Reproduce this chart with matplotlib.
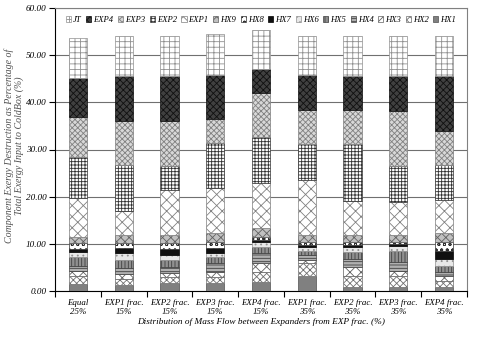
import matplotlib
matplotlib.use("Agg")
import matplotlib.pyplot as plt
import numpy as np

categories = ["Equal\n25%", "EXP1 frac.\n15%", "EXP2 frac.\n15%", "EXP3 frac.\n15%", "EXP4 frac.\n15%",
              "EXP1 frac.\n35%", "EXP2 frac.\n35%", "EXP3 frac.\n35%", "EXP4 frac.\n35%"]

HX1 = [1.5, 1.2, 1.7, 1.7, 1.9, 3.2, 0.9, 0.9, 0.9]
HX2 = [1.6, 1.3, 1.2, 1.3, 2.1, 2.7, 2.2, 2.2, 1.2]
HX3 = [1.2, 1.0, 1.0, 1.0, 1.9, 0.7, 2.0, 1.1, 1.0]
HX4 = [1.0, 1.4, 1.2, 1.9, 2.2, 1.0, 1.6, 1.9, 1.0]
HX5 = [2.0, 1.7, 1.4, 1.3, 1.2, 0.9, 1.6, 2.3, 1.1]
HX6 = [1.0, 1.5, 1.2, 0.9, 1.1, 0.8, 1.0, 1.2, 1.5]
HX7 = [0.6, 1.0, 1.1, 1.0, 0.4, 0.4, 0.4, 0.4, 1.7]
HX8 = [1.3, 1.1, 1.3, 1.3, 0.6, 0.7, 0.7, 0.4, 2.0]
HX9 = [1.2, 1.7, 1.8, 1.9, 1.9, 1.5, 1.5, 1.5, 1.9]
EXP1 = [8.3, 5.1, 9.5, 9.5, 9.6, 11.6, 7.2, 7.0, 7.0]
EXP2 = [8.7, 9.7, 5.1, 9.5, 9.7, 7.6, 12.0, 7.6, 7.4]
EXP3 = [8.5, 9.3, 9.5, 5.1, 9.4, 7.2, 7.2, 11.7, 7.3]
EXP4 = [8.2, 9.6, 9.6, 9.4, 5.0, 7.5, 7.3, 7.4, 11.6]
JT = [8.5, 8.4, 8.4, 8.6, 8.4, 8.3, 8.4, 8.4, 8.4]

series_names = ["HX1", "HX2", "HX3", "HX4", "HX5", "HX6", "HX7", "HX8", "HX9",
                "EXP1", "EXP2", "EXP3", "EXP4", "JT"]
series_vals = [HX1, HX2, HX3, HX4, HX5, HX6, HX7, HX8, HX9, EXP1, EXP2, EXP3, EXP4, JT]

# (facecolor, hatch, hatch/edge color)
styles = {
    "HX1": ("#808080", "", "#505050"),
    "HX2": ("white", "xxxxx", "#707070"),
    "HX3": ("white", "xxx", "#606060"),
    "HX4": ("#b0b0b0", "-----", "#404040"),
    "HX5": ("#909090", "|||||", "#404040"),
    "HX6": ("#e8e8e8", "...", "#909090"),
    "HX7": ("#101010", "", "#000000"),
    "HX8": ("white", "ooo", "#303030"),
    "HX9": ("#c0c0c0", "xxxx", "#606060"),
    "EXP1": ("white", "xxx", "#808080"),
    "EXP2": ("white", "+++++", "#303030"),
    "EXP3": ("#d8d8d8", "xxxxxx", "#808080"),
    "EXP4": ("#404040", "xxxxx", "#101010"),
    "JT": ("white", "+++", "#909090"),
}

plt.rcParams["font.family"] = ["Liberation Serif", "DejaVu Serif"]
plt.rcParams["font.style"] = "italic"
plt.rcParams["hatch.linewidth"] = 0.6

fig = plt.figure(figsize=(4.8, 3.4), dpi=100)
ax = fig.add_axes([55 / 480, 1 - 291 / 340, (467 - 55) / 480, (291 - 8) / 340])

x = np.arange(len(categories))
bottom = np.zeros(len(categories))
handles = {}
for name, vals in zip(series_names, series_vals):
    fc, h, ec = styles[name]
    b = ax.bar(x, vals, 0.4, bottom=bottom, color=fc, hatch=h, edgecolor=ec,
               linewidth=0.5, zorder=3, label=name)
    handles[name] = b
    bottom += np.array(vals)

ax.set_ylim(0, 60)
ax.set_xlim(-0.5, len(categories) - 0.5)
ax.set_yticks(np.arange(0, 61, 10))
ax.set_yticklabels([f"{v:.2f}" for v in np.arange(0, 61, 10)], fontsize=6.6)
ax.set_xticks(x)
ax.set_xticklabels(categories, fontsize=6.4, linespacing=1.15)
ax.tick_params(axis="x", length=0, pad=6)
ax.set_xticks(np.arange(-0.5, len(categories), 1), minor=True)
ax.tick_params(axis="x", which="minor", length=4, width=0.8, direction="out")
ax.tick_params(axis="y", length=4, width=0.8, direction="out", pad=2)
ax.yaxis.grid(True, color="#707070", linewidth=0.8, zorder=0)
ax.set_axisbelow(True)
for s in ["left", "bottom"]:
    ax.spines[s].set_color("black")
    ax.spines[s].set_linewidth(0.8)
for s in ["top", "right"]:
    ax.spines[s].set_color("#808080")
    ax.spines[s].set_linewidth(0.8)

ax.set_xlabel("Distribution of Mass Flow between Expanders from EXP frac. (%)", fontsize=6.7, labelpad=1)
fig.text(14 / 480, 1 - 146 / 340,
         "Component Exergy Destruction as Percentage of\nTotal Exergy Input to ColdBox (%)",
         rotation=90, ha="center", va="center", fontsize=7.1, color="#505050",
         linespacing=1.05, multialignment="center")

order = ["JT", "EXP4", "EXP3", "EXP2", "EXP1", "HX9", "HX8", "HX7", "HX6", "HX5", "HX4", "HX3", "HX2", "HX1"]
leg = ax.legend([handles[n] for n in order], order, loc="upper center", ncol=14, frameon=False,
                fontsize=6.2, handlelength=0.6, handleheight=0.6, handletextpad=0.2,
                columnspacing=0.55, bbox_to_anchor=(0.5, 0.99), borderaxespad=0.2)

fig.savefig("out.png", dpi=100)
